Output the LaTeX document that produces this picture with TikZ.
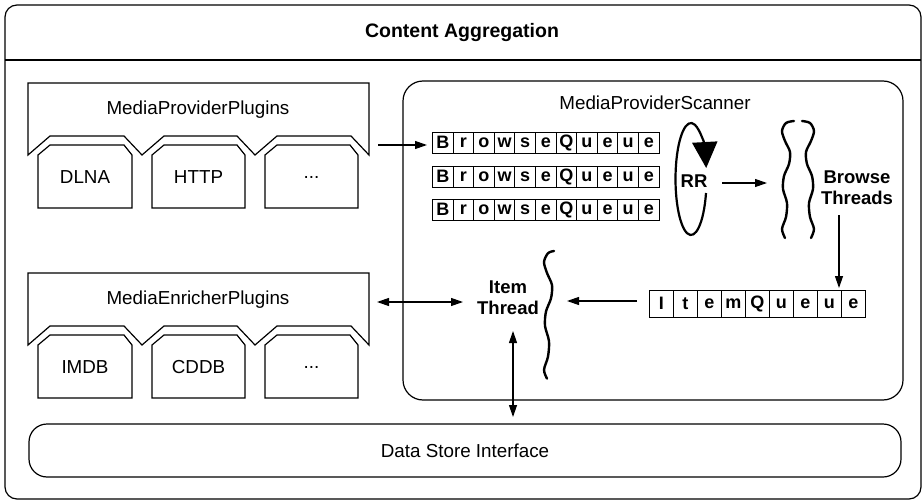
\documentclass[tikz,border=0pt]{standalone}
\usepackage{fontspec}
\setmainfont{Liberation Sans}
\usetikzlibrary{arrows.meta}
\newcommand{\tdots}{...}
\begin{document}
\begin{tikzpicture}[x=1pt,y=-1pt,
  txt/.style={font=\fontsize{18.8}{21}\selectfont, inner sep=0pt},
  btxt/.style={font=\fontsize{18.5}{21}\selectfont\bfseries, inner sep=0pt, align=center},
  frame/.style={draw, line width=1.2pt},
  tip/.tip={Triangle[length=12pt,width=8pt]},
  conn/.style={line width=1.2pt, -tip},
  biconn/.style={line width=1.2pt, tip-tip},
  thr/.style={line width=2.4pt, line cap=round},
  cell/.style={draw, line width=0.9pt, minimum width=20.6pt, minimum height=21pt, inner sep=0pt,
    font=\fontsize{18}{18}\selectfont\bfseries, anchor=west}
]
\useasboundingbox (0,0) rectangle (924,503);

% outer frame and title
\draw[frame, rounded corners=12pt] (5,5) rectangle (921,499);
\draw[line width=1.2pt] (5,60) -- (921,60);
\node[btxt, font=\fontsize{19.5}{21}\selectfont\bfseries] (title) at (462,33) {Content Aggregation};

% plugin groups
\foreach \dy/\nm/\lab/\a/\b/\c in {0/mpp/MediaProviderPlugins/DLNA/HTTP/\tdots,190/mep/MediaEnricherPlugins/IMDB/CDDB/\tdots}{
  \begin{scope}[shift={(0,\dy)}]
    \draw[frame, line join=miter] (28,155) -- (28,83) -- (369,83) -- (369,155)
      -- (351,136) -- (277,136) -- (255,155) -- (237,136) -- (164,136) -- (142,155)
      -- (124,136) -- (50,136) -- cycle;
    \node[txt] (\nm) at (198,110) {\lab};
    \foreach \L/\R/\t/\k in {38/132/\a/1,152/245/\b/2,265/358/\c/3}{
      \draw[frame] (\L,208) -- (\L,155) -- (\L+12,145) -- (\R-8,145) -- (\R,155) -- (\R,208) -- cycle;
      \node[txt] (\nm-\k) at ({(\L+\R)/2},177) {\t};
    }
  \end{scope}
}

% scanner
\node[frame, rounded corners=20pt, minimum width=500pt, minimum height=319pt, inner sep=0pt] (scanner) at (653,240.5) {};
\node[txt] (scanlabel) at (655,103) {MediaProviderScanner};

% browse queues
\foreach \r/\y in {1/142.5,2/176.5,3/209.5}{
  \foreach \l [count=\i] in {B,r,o,w,s,e,Q,u,e,u,e}{
    \node[cell] (bq\r-\i) at ({432+(\i-1)*20.6},\y) {\l};
  }
}

% item queue
\foreach \l [count=\i] in {I,t,e,m,Q,u,e,u,e}{
  \node[cell, minimum width=24pt, minimum height=27pt] (iq-\i) at ({649+(\i-1)*24},303.5) {\l};
}

% RR
\node[btxt] (rr) at (694,181) {RR};
\draw[line width=2.2pt, -{Triangle[length=26pt,width=25pt]}]
  (691,179) ++(14.5:15.5 and 56) arc[start angle=14.5, end angle=348.7, x radius=15.5, y radius=56];

% threads
\draw[thr, shift={(786,121)}] plot[smooth] coordinates
  {(8,0) (0,2) (-4,10) (-1,20) (4,31) (3,43) (-2,55) (-3,68) (1,82) (0,96) (-4,108) (-1,117)};
\draw[thr, shift={(810,121)}, xscale=-1] plot[smooth] coordinates
  {(8,0) (0,2) (-4,10) (-1,20) (4,31) (3,43) (-2,55) (-3,68) (1,82) (0,96) (-4,108) (-1,117)};
\draw[thr, shift={(548,251)}, yscale=1.1] plot[smooth] coordinates
  {(6,0) (0,2) (-4,10) (-1,20) (4,31) (3,43) (-2,55) (-3,68) (1,82) (0,96) (-4,108) (-1,116)};
\node[btxt] (bt) at (857,187.5) {Browse\\Threads};
\node[btxt] (it) at (508,297.5) {Item\\Thread};

% data store
\node[frame, rounded corners=18pt, minimum width=872pt, minimum height=53pt, inner sep=0pt] (ds) at (465,450.5) {};
\node[txt] (dslabel) at (465,451) {Data Store Interface};

% connector end points
\coordinate (mppout) at (378,145);
\coordinate (bqin) at (427,145);
\coordinate (rrout) at (722,183);
\coordinate (btin) at (767,183);
\coordinate (btout) at (839,215);
\coordinate (iqin) at (839,288);
\coordinate (iqout) at (637,301);
\coordinate (itin) at (567,301);
\coordinate (mepio) at (377,302);
\coordinate (itleft) at (463,302);
\coordinate (itdown) at (513,331);
\coordinate (dsin) at (513,417);

\draw[conn] (mppout) -- (bqin);
\draw[conn] (rrout) -- (btin);
\draw[conn] (btout) -- (iqin);
\draw[conn] (iqout) -- (itin);
\draw[biconn] (mepio) -- (itleft);
\draw[biconn] (itdown) -- (dsin);
\end{tikzpicture}
\end{document}
